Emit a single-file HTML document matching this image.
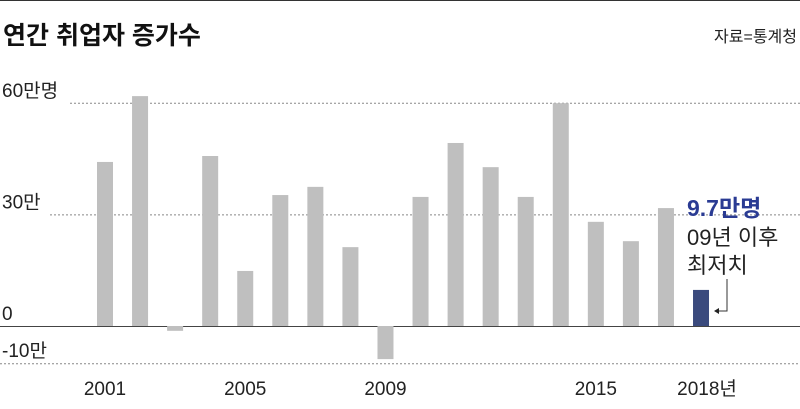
<!DOCTYPE html>
<html><head><meta charset="utf-8"><style>
body{margin:0;background:#fff;font-family:"Liberation Sans","Noto Sans CJK KR",sans-serif;}
svg text{font-family:"Liberation Sans","Noto Sans CJK KR",sans-serif;}
</style></head><body>
<svg id="c" width="800" height="404">
<line x1="0" y1="0.5" x2="800" y2="0.5" stroke="#333"/>
<text x="3" y="44" font-size="25" font-weight="bold" fill="#111">연간 취업자 증가수</text>
<text x="797" y="42" font-size="16" fill="#222" text-anchor="end">자료=통계청</text>
<g id="grid"></g><g id="bars"></g><g id="xl"></g>
<text x="687" y="216" font-size="23" font-weight="bold" fill="#2a3b93">9.7만명</text>
<text x="687" y="245" font-size="22" fill="#222">09년 이후</text>
<text x="687" y="273" font-size="22" fill="#222">최저치</text>
<path d="M727 279 V311 H715" fill="none" stroke="#333"/>
<path d="M714 311 l5 -3 v6 z" fill="#222"/>
</svg>
<script>
const years=[2001,2002,2003,2004,2005,2006,2007,2008,2009,2010,2011,2012,2013,2014,2015,2016,2017,2018];
const values=[44.1,61.8,-1.3,45.7,14.8,35.2,37.4,21.2,-8.9,34.7,49.2,42.7,34.7,59.9,28.0,22.8,31.7,9.7];
const tickValues=[60,30,0,-10];
const tickLabels=["60만명","30만","0","-10만"];
const xLabels={2001:"2001",2005:"2005",2009:"2009",2015:"2015",2018:"2018년"};
const NS="http://www.w3.org/2000/svg";
const y=v=>326-v*3.72;
const x=yr=>105+(yr-2001)*35.06;
function mk(t,a,p){const e=document.createElementNS(NS,t);for(const k in a)e.setAttribute(k,a[k]);p.appendChild(e);return e;}
const g=document.getElementById('grid');
tickValues.forEach((v,i)=>{
 const lab=mk('text',{x:2,y:y(v)-6,'font-size':19,fill:'#222'},g);
 lab.textContent=tickLabels[i];
 
 
 const x0=v===60?70:v===30?50:0;
 const ln=mk('line',{x1:x0,x2:800,y1:y(v)+0.5,y2:y(v)+0.5,stroke:v===0?'#444':'#888','stroke-dasharray':v===0?'none':'2,2'},g);
 
 
});
const b=document.getElementById('bars');
years.forEach((yr,i)=>{
 const v=values[i];
 const r=mk('rect',{x:x(yr)-8,width:16,y:Math.min(y(v),y(0)),height:Math.abs(y(v)-y(0)),fill:yr===2018?'#3a4a7d':'#bfbfbf'},b);
 
 
});
const xl=document.getElementById('xl');
years.forEach(yr=>{
 if(!xLabels[yr])return;
 const t=mk('text',{x:yr===2018?x(yr)+6:x(yr),y:395,'font-size':19,fill:'#222','text-anchor':'middle'},xl);
 t.textContent=xLabels[yr];
 
 
});
</script>
</body></html>
